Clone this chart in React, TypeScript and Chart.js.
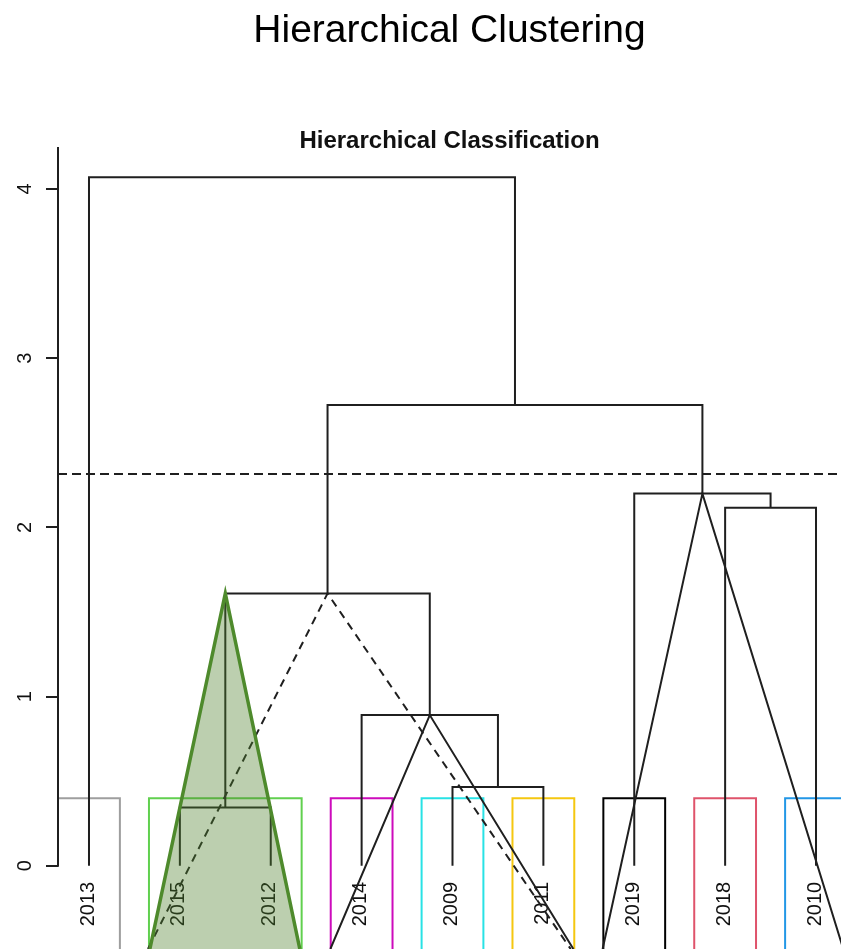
import React, { useEffect, useRef } from 'react';
import { Chart, registerables } from 'chart.js';

Chart.register(...registerables);

// ---- data ----
const leafLabels = ['2013', '2015', '2012', '2014', '2009', '2011', '2019', '2018', '2010'];
// R-style merge matrix: negative = leaf (1-based display position), positive = earlier merge
const mergeLeft = [-2, -5, -4, 1, -8, -7, 4, -1];
const mergeRight = [-3, -6, 2, 3, -9, 5, 6, 7];
const mergeHeight = [0.345, 0.466, 0.891, 1.61, 2.116, 2.2, 2.723, 4.069];
const cutHeight = 2.316;
const yTicks = [0, 1, 2, 3, 4];
const yAxisTop = 4.248;

// cluster rectangles (leaf positions)
const boxFirstLeaf = [0, 1, 3, 4, 5, 6, 7, 8];
const boxLastLeaf = [0, 2, 3, 4, 5, 6, 7, 8];
const boxColors = ['#9E9E9E', '#61D04F', '#CD0BBC', '#28E2E5', '#F5C710', '#000000', '#DF536B', '#2297E6'];
const boxTop = 0.4;
const boxBottom = -0.7;

// triangles (apex and base, in data units)
const triApexX = [1.5, 2.625, 3.75, 6.75];
const triApexY = [1.61, 1.61, 0.891, 2.2];
const triBaseLeft = [0.67, 0.649, 2.656, 5.652];
const triBaseRight = [2.32, 5.3, 5.33, 8.3];
const triBaseY = -0.4917;

// axis ranges
const xMin = -0.341;
const xMax = 8.275;
const yMin = -0.4917;
const yMax = 4.213;

const FONT = "'Liberation Sans', Arial, sans-serif";

export default function App() {
  const ref = useRef<HTMLCanvasElement>(null);

  useEffect(() => {
    const canvas = ref.current;
    if (!canvas) return;

    const nodeX: number[] = [];
    const nodeH: number[] = [];
    const cx = (c: number) => (c < 0 ? -c - 1 : nodeX[c - 1]);
    const ch = (c: number) => (c < 0 ? 0 : nodeH[c - 1]);

    const dendroSets = mergeHeight.map((h, i) => {
      const l = mergeLeft[i];
      const r = mergeRight[i];
      const xl = cx(l);
      const xr = cx(r);
      const ds = {
        data: [
          { x: xl, y: ch(l) },
          { x: xl, y: h },
          { x: xr, y: h },
          { x: xr, y: ch(r) },
        ],
        borderColor: '#1f1f1f',
        borderWidth: 2,
        order: 5,
      };
      nodeX[i] = (xl + xr) / 2;
      nodeH[i] = h;
      return ds;
    });

    const boxSets = boxColors.map((col, i) => {
      const l = boxFirstLeaf[i] - (i === 0 ? 0.38 : 0.34);
      const r = boxLastLeaf[i] + 0.34;
      return {
        data: [
          { x: l, y: boxBottom },
          { x: l, y: boxTop },
          { x: r, y: boxTop },
          { x: r, y: boxBottom },
        ],
        borderColor: col,
        borderWidth: 2,
        order: 6,
      };
    });

    const cutSet = {
      data: [
        { x: xMin, y: cutHeight },
        { x: xMax, y: cutHeight },
      ],
      borderColor: '#1f1f1f',
      borderWidth: 2,
      borderDash: [9, 5],
      order: 4,
    };

    const triSets = triApexX.map((ax, i) => {
      const base: any = {
        data: [
          { x: triBaseLeft[i], y: triBaseY },
          { x: ax, y: triApexY[i] },
          { x: triBaseRight[i], y: triBaseY },
        ],
        borderColor: '#1f1f1f',
        borderWidth: 2,
        order: 3,
      };
      if (i === 0) {
        base.borderColor = '#4E8A2C';
        base.borderWidth = 3.5;
        base.backgroundColor = 'rgba(80,128,45,0.38)';
        base.fill = 'shape';
        base.order = 1;
      }
      if (i === 1) {
        base.borderDash = [8, 6];
      }
      return base;
    });

    const datasets = [...boxSets, ...dendroSets, cutSet, ...triSets].map((d) => ({
      showLine: true,
      pointRadius: 0,
      pointHoverRadius: 0,
      fill: false,
      tension: 0,
      ...d,
    }));

    const labelPlugin = {
      id: 'dendroLabels',
      beforeDatasetsDraw(chart: any) {
        const { ctx } = chart;
        const xs = chart.scales.x;
        const ys = chart.scales.y;
        ctx.save();
        ctx.fillStyle = '#111';
        ctx.font = `20px ${FONT}`;
        ctx.textAlign = 'right';
        ctx.textBaseline = 'middle';
        leafLabels.forEach((lab, i) => {
          const px = xs.getPixelForValue(i);
          const py = ys.getPixelForValue(0) + 16;
          ctx.save();
          ctx.translate(px - 1, py);
          ctx.rotate(-Math.PI / 2);
          ctx.fillText(lab, 0, 0);
          ctx.restore();
        });
        ctx.restore();
      },
      afterDraw(chart: any) {
        const { ctx, chartArea } = chart;
        const ys = chart.scales.y;
        ctx.save();
        // axis line
        ctx.strokeStyle = '#1f1f1f';
        ctx.lineWidth = 2;
        ctx.beginPath();
        ctx.moveTo(chartArea.left, ys.getPixelForValue(0) + 1);
        ctx.lineTo(chartArea.left, ys.getPixelForValue(yAxisTop));
        ctx.stroke();
        // tick labels
        ctx.fillStyle = '#111';
        ctx.font = `20px ${FONT}`;
        ctx.textAlign = 'center';
        ctx.textBaseline = 'middle';
        yTicks.forEach((v) => {
          const py = ys.getPixelForValue(v);
          ctx.save();
          ctx.translate(chartArea.left - 33, py);
          ctx.rotate(-Math.PI / 2);
          ctx.fillText(String(v), 0, 0);
          ctx.restore();
        });
        ctx.restore();
      },
    };

    const chart = new Chart(canvas, {
      type: 'scatter',
      data: { datasets: datasets as any },
      options: {
        responsive: false,
        animation: false,
        events: [],
        layout: { padding: 0 },
        plugins: {
          legend: { display: false },
          tooltip: { enabled: false },
          title: {
            display: true,
            text: 'Hierarchical Clustering',
            color: '#000',
            fullSize: false,
            font: { family: FONT, size: 39, weight: 'normal', lineHeight: 1.2 },
            padding: { top: 7.6, bottom: 74.6 },
          },
          subtitle: {
            display: true,
            text: 'Hierarchical Classification',
            color: '#111',
            fullSize: false,
            font: { family: FONT, size: 24, weight: 'bold', lineHeight: 1 },
            padding: { top: 0, bottom: 0 },
          },
        },
        scales: {
          x: {
            type: 'linear',
            min: xMin,
            max: xMax,
            display: false,
          },
          y: {
            type: 'linear',
            min: yMin,
            max: yMax,
            position: 'left',
            afterBuildTicks: (s: any) => {
              s.ticks = yTicks.map((v) => ({ value: v }));
            },
            afterFit: (s: any) => {
              s.width = 58;
              s.paddingTop = 0;
              s.paddingBottom = 0;
            },
            ticks: { display: false },
            border: { display: false },
            grid: {
              drawOnChartArea: false,
              drawTicks: true,
              tickLength: 12,
              color: '#1f1f1f',
              lineWidth: 2,
            },
          },
        },
      },
      plugins: [labelPlugin],
    });

    return () => chart.destroy();
  }, []);

  return (
    <div style={{ position: 'absolute', left: 0, top: 0, width: 841, height: 949, background: '#fff' }}>
      <canvas ref={ref} width={841} height={949} style={{ display: 'block' }} />
    </div>
  );
}
